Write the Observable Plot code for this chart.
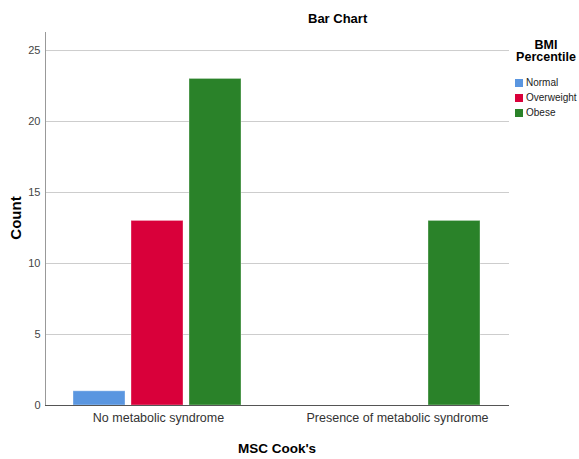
<!DOCTYPE html>
<html>
<head>
<meta charset="utf-8">
<script src="https://cdn.jsdelivr.net/npm/d3@7"></script>
<script src="https://cdn.jsdelivr.net/npm/@observablehq/plot@0.6"></script>
<style>
  html, body { margin: 0; padding: 0; background: #fff; }
  #wrap { position: relative; width: 579px; height: 459px; font-family: "Liberation Sans", Arial, sans-serif; color: #000; }
  #wrap svg { position: absolute; left: 0; top: 0; }
  .lbl { position: absolute; white-space: nowrap; font-weight: bold; }
  .leg { position: absolute; white-space: nowrap; font-size: 10px; color: #222; line-height: 12px; }
  .sw { position: absolute; width: 8px; height: 8px; }
</style>
</head>
<body>
<div id="wrap"></div>
<script>
// ---- data ----
const categories = ["No metabolic syndrome", "Presence of metabolic syndrome"];
const groups = ["Normal", "Overweight", "Obese"];
const colors = ["#5a96e0", "#d9003a", "#2a8229"];
const normalCounts = [1, 0];
const overweightCounts = [13, 0];
const obeseCounts = [23, 13];
const yTicks = [0, 5, 10, 15, 20, 25];

const seriesCounts = [normalCounts, overweightCounts, obeseCounts];
const table = [];
categories.forEach((c, i) => {
  groups.forEach((g, j) => {
    const v = seriesCounts[j][i];
    if (v > 0) table.push({category: c, group: g, count: v});
  });
});

const common = {
  width: 579, height: 459,
  marginLeft: 45, marginRight: 70, marginTop: 32, marginBottom: 54
};
const yDomain = [0, 26.27];
const font = '"Liberation Sans", Arial, sans-serif';

// Layer A: grid + tick labels
const layerA = Plot.plot({
  ...common,
  style: {fontFamily: font, color: "#333", background: "white"},
  x: {type: "point", domain: categories, padding: 0.4667, label: null},
  y: {domain: yDomain, label: null},
  marks: [
    Plot.ruleY(yTicks.slice(1), {stroke: "#cdcdcd", strokeWidth: 1}),
    Plot.axisY(yTicks, {tickSize: 0, tickPadding: 5, fontSize: 11, label: null, fill: "#444"}),
    Plot.axisX({tickSize: 0, tickPadding: 8, fontSize: 12.5, label: null, fill: "#333"})
  ]
});

// Layer B: bars (faceted by category, grouped by BMI percentile)
const layerB = Plot.plot({
  ...common,
  style: {fontFamily: font, background: "transparent"},
  fx: {domain: categories, paddingInner: 0.2, paddingOuter: 0.0667, axis: null, label: null},
  x: {domain: groups, paddingInner: 0.1, paddingOuter: 0.177, axis: null, label: null},
  y: {domain: yDomain, axis: null, label: null},
  color: {domain: groups, range: colors},
  marks: [
    Plot.barY(table, {fx: "category", x: "group", y: "count", fill: "group",
      stroke: "white", strokeOpacity: 0.35, strokeWidth: 1})
  ]
});

// Layer C: axis lines on top
const layerC = Plot.plot({
  ...common,
  style: {background: "transparent"},
  x: {type: "point", domain: categories, padding: 0.4667, axis: null},
  y: {domain: yDomain, axis: null},
  marks: [
    Plot.frame({anchor: "left", stroke: "#999"}),
    Plot.ruleY([0], {stroke: "#555"})
  ]
});

const wrap = document.getElementById("wrap");
wrap.appendChild(layerA);
wrap.appendChild(layerB);
wrap.appendChild(layerC);

function addLabel(text, css) {
  const d = document.createElement("div");
  d.className = "lbl";
  d.textContent = text;
  Object.assign(d.style, css);
  wrap.appendChild(d);
  return d;
}
addLabel("Bar Chart", {left: "308px", top: "11px", fontSize: "13px"});
addLabel("MSC Cook's", {left: "277px", top: "441px", fontSize: "13.5px", transform: "translateX(-50%)"});
addLabel("Count", {left: "15px", top: "218px", fontSize: "15px", transform: "translate(-50%,-50%) rotate(-90deg)"});
addLabel("BMI Percentile", {left: "514px", width: "64px", top: "40px", fontSize: "12.5px",
  lineHeight: "11.5px", whiteSpace: "normal", textAlign: "center"});

groups.forEach((g, j) => {
  const top = 79 + j * 15;
  const s = document.createElement("div");
  s.className = "sw";
  s.style.left = "515px";
  s.style.top = top + "px";
  s.style.background = colors[j];
  wrap.appendChild(s);
  const t = document.createElement("div");
  t.className = "leg";
  t.textContent = g;
  t.style.left = "526px";
  t.style.top = (top - 2) + "px";
  wrap.appendChild(t);
});
</script>
</body>
</html>
